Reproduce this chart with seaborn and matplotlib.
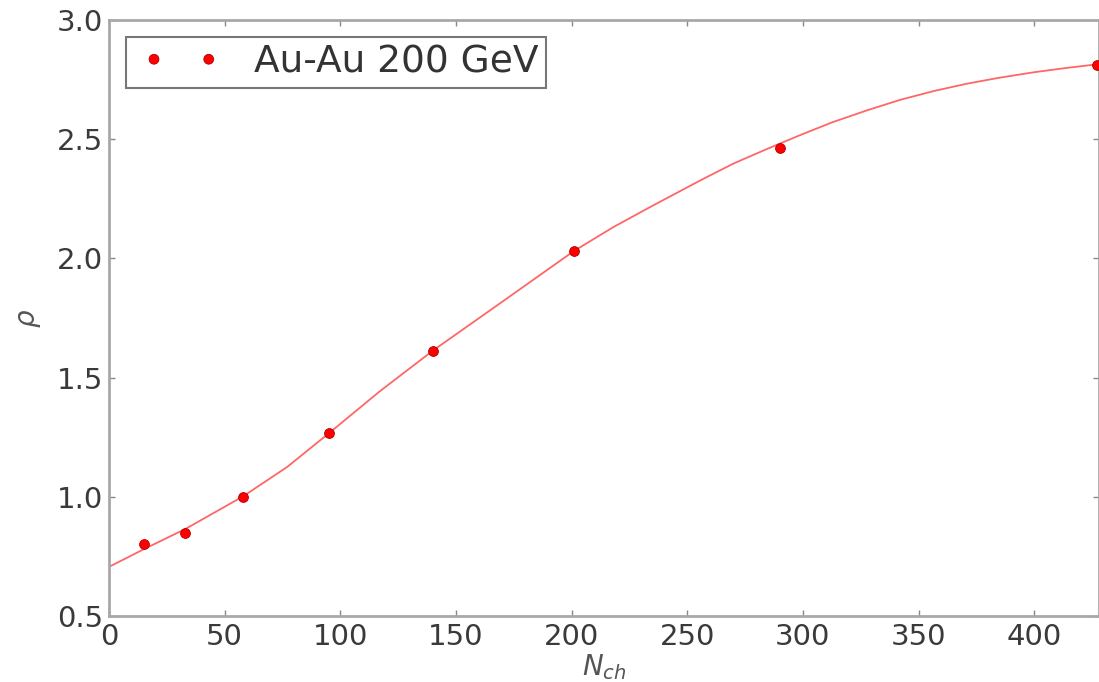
import matplotlib
matplotlib.use("Agg")
import matplotlib.pyplot as plt
from matplotlib.collections import PathCollection
from matplotlib.legend_handler import HandlerPathCollection
import seaborn as sns

# measured points (Au-Au 200 GeV)
nch = [15, 33, 58, 95, 140, 201, 290, 427]
rho = [0.802, 0.850, 1.00, 1.268, 1.612, 2.031, 2.463, 2.811]

# fit curve
curve_x = [0, 15, 33, 58, 77, 95, 117, 140, 171, 201, 218, 235, 256, 270, 284,
           299, 313, 328, 342, 357, 371, 385, 400, 414, 428]
curve_y = [0.706, 0.780, 0.865, 1.002, 1.125, 1.266, 1.442, 1.613, 1.825, 2.031,
           2.131, 2.221, 2.329, 2.398, 2.457, 2.518, 2.572, 2.622, 2.665, 2.703,
           2.733, 2.758, 2.781, 2.799, 2.815]

x_ticks = [0, 50, 100, 150, 200, 250, 300, 350, 400]
y_ticks = [0.5, 1.0, 1.5, 2.0, 2.5, 3.0]

sns.set_theme(style="white")
plt.rcParams['font.family'] = ['DejaVu Sans']
plt.rcParams['mathtext.fontset'] = 'dejavusans'

fig = plt.figure(figsize=(10.99, 6.82), dpi=100)
ax = fig.add_axes([109 / 1099, 1 - 616 / 682, (1099 - 109) / 1099, (616 - 20) / 682])

sns.lineplot(x=curve_x, y=curve_y, color='red', alpha=0.6, linewidth=1.3,
             sort=False, ax=ax, legend=False)
sns.scatterplot(x=nch, y=rho, color='red', s=50, edgecolor='#b00000', linewidth=0.6,
                label='Au-Au 200 GeV', ax=ax, zorder=3)

ax.set_xlim(0, 428)
ax.set_ylim(0.5, 3.0)
ax.set_xticks(x_ticks)
ax.set_yticks(y_ticks)
ax.set_yticklabels([f'{v:.1f}' for v in y_ticks])

for sp in ax.spines.values():
    sp.set_color('#a8a8a8')
    sp.set_linewidth(2.0)

ax.tick_params(direction='in', length=4, width=1, color='#888888',
               top=True, right=True, bottom=True, left=True,
               labelsize=21, labelcolor='#3a3a3a')
ax.tick_params(axis='x', pad=5)
ax.tick_params(axis='y', pad=4)

ax.set_xlabel('$N_{ch}$', fontsize=20, color='#555555', labelpad=1)
ax.set_ylabel(r'$\rho$', fontsize=20, color='#555555', labelpad=10)

leg = ax.legend(loc='upper left', scatterpoints=2, scatteryoffsets=[0.5],
                fontsize=27, frameon=True, fancybox=False, borderpad=0.2,
                handlelength=2.56, handletextpad=0.65, borderaxespad=0.45,
                handler_map={PathCollection: HandlerPathCollection(marker_pad=0.55)})
leg.get_frame().set_edgecolor('#555555')
leg.get_frame().set_linewidth(1.5)
for t in leg.get_texts():
    t.set_color('#333333')

fig.savefig('out.png', dpi=100)
